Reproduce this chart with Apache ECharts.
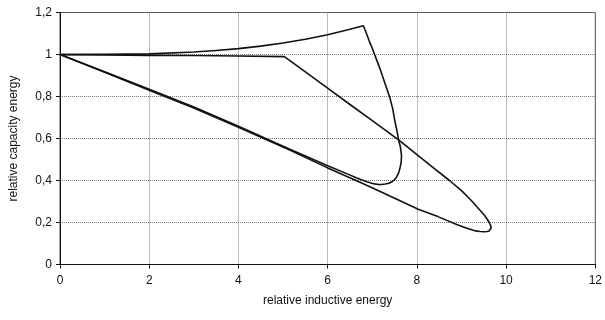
<!DOCTYPE html>
<html>
<head>
<meta charset="utf-8">
<script src="https://cdn.jsdelivr.net/npm/echarts@6/dist/echarts.min.js"></script>
<style>
  html, body { margin: 0; padding: 0; background: #fff; }
  #chart { width: 605px; height: 320px; }
</style>
</head>
<body>
<div id="chart"></div>
<script>
// Trajectory with overshoot peak and inner loop
const peakCurveX = [0, 1, 2, 3, 3.5, 4, 4.5, 5, 5.5, 6, 6.5, 6.8,
  6.87, 6.93, 7.0, 7.07, 7.16, 7.24, 7.32, 7.4, 7.46, 7.5, 7.55, 7.59,
  7.63, 7.655, 7.65, 7.62, 7.59, 7.55, 7.5, 7.44, 7.37, 7.29, 7.2, 7.14, 7.05, 6.99, 6.88, 6.77, 6.64, 6.48,
  6, 5, 4, 3, 2, 1, 0];
const peakCurveY = [1, 1.0004, 1.003, 1.012, 1.019, 1.028, 1.04, 1.055, 1.073, 1.094, 1.12, 1.137,
  1.10, 1.065, 1.03, 0.99, 0.94, 0.89, 0.84, 0.79, 0.74, 0.69, 0.64, 0.593,
  0.56, 0.52, 0.49, 0.458, 0.435, 0.418, 0.404, 0.394, 0.387, 0.383, 0.381, 0.381, 0.384, 0.387, 0.394, 0.402, 0.413, 0.428,
  0.47, 0.563, 0.658, 0.75, 0.835, 0.918, 1];

// Trajectory with flat start, corner and far tip
const tipCurveX = [0, 1, 2, 3, 4, 5.03,
  5.4, 6.03, 6.5, 7, 7.59, 8.05, 8.4, 8.73, 9.0, 9.21, 9.3, 9.4, 9.51, 9.57, 9.62, 9.655, 9.665,
  9.65, 9.62, 9.57, 9.51, 9.42, 9.32, 9.23, 9.14, 8.92, 8.47, 8.03, 7.25, 6.7, 6.0, 5.15, 4, 3, 2, 1, 0];
const tipCurveY = [1, 0.998, 0.996, 0.995, 0.993, 0.99,
  0.933, 0.835, 0.762, 0.685, 0.593, 0.515, 0.455, 0.4, 0.352, 0.307, 0.286, 0.262, 0.236, 0.218, 0.2, 0.185, 0.175,
  0.166, 0.16, 0.157, 0.156, 0.157, 0.16, 0.165, 0.172, 0.188, 0.228, 0.263, 0.34, 0.394, 0.46, 0.545, 0.653, 0.745, 0.83, 0.915, 1];

const xTicks = [0, 2, 4, 6, 8, 10, 12];
const yTicks = [0, 0.2, 0.4, 0.6, 0.8, 1, 1.2];

const pairs = (xs, ys) => xs.map((x, i) => [x, ys[i]]);
const commaDecimal = v => String(parseFloat(Number(v).toFixed(1))).replace('.', ',');

const chart = echarts.init(document.getElementById('chart'), null, { renderer: 'canvas' });
const font = 'Liberation Sans, Arial, sans-serif';
const gridLine = { show: true, lineStyle: { color: '#777', type: [1, 1], width: 1 } };

chart.setOption({
  animation: false,
  backgroundColor: '#fff',
  grid: {
    left: 58, right: 6, top: 12.5, bottom: 55.5,
    show: true, borderColor: '#444', borderWidth: 1
  },
  xAxis: {
    type: 'value',
    min: xTicks[0], max: xTicks[xTicks.length - 1], interval: 2,
    name: 'relative inductive energy',
    nameLocation: 'middle', nameGap: 30,
    nameTextStyle: { fontFamily: font, fontSize: 12, color: '#111' },
    axisLine: { show: true, onZero: false, lineStyle: { color: '#111', width: 1 } },
    axisTick: { show: true, length: 4, lineStyle: { color: '#111' } },
    axisLabel: { fontFamily: font, fontSize: 12, color: '#111', margin: 10 },
    splitLine: gridLine
  },
  yAxis: {
    type: 'value',
    min: yTicks[0], max: yTicks[yTicks.length - 1], interval: 0.2,
    name: 'relative capacity energy',
    nameLocation: 'middle', nameGap: 40,
    nameTextStyle: { fontFamily: font, fontSize: 12, color: '#111' },
    axisLine: { show: true, onZero: false, lineStyle: { color: '#111', width: 1 } },
    axisTick: { show: true, length: 4, lineStyle: { color: '#111' } },
    axisLabel: { fontFamily: font, fontSize: 12, color: '#111', margin: 8, formatter: commaDecimal },
    splitLine: gridLine
  },
  series: [
    {
      type: 'line', data: pairs(peakCurveX, peakCurveY),
      showSymbol: false, smooth: false,
      lineStyle: { color: '#111', width: 1.6, join: 'round' }
    },
    {
      type: 'line', data: pairs(tipCurveX, tipCurveY),
      showSymbol: false, smooth: false,
      lineStyle: { color: '#111', width: 1.6, join: 'round' }
    }
  ]
});
</script>
</body>
</html>
